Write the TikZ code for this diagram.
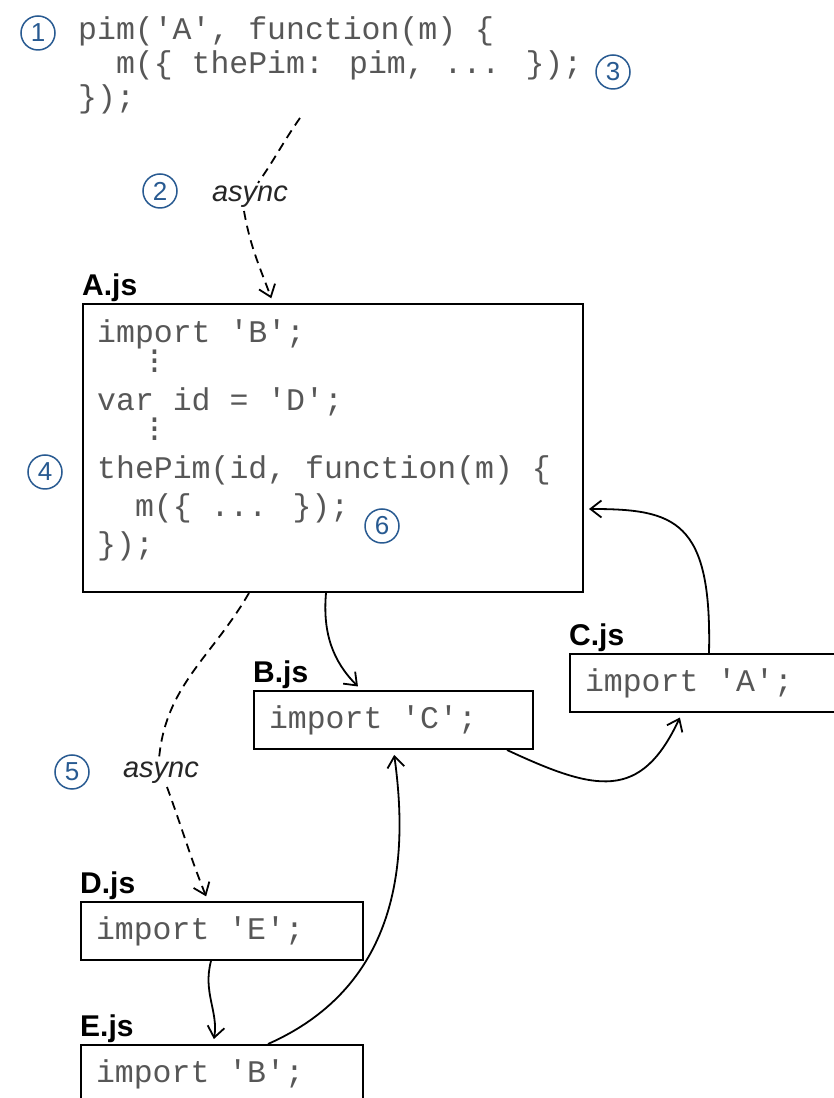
\documentclass[tikz,border=0pt]{standalone}
\usepackage{fontspec}
\usetikzlibrary{arrows.meta,positioning}
\newfontfamily\codefont{Liberation Mono}[Ligatures=TeXOff]
\newfontfamily\labelfont{Liberation Sans}
\definecolor{stepblue}{RGB}{40,90,145}
% three small dots between code lines
\newcommand\codegap{\hspace*{48pt}\raisebox{4pt}{\vbox{\baselineskip=9pt\lineskiplimit=0pt\hbox{.}\hbox{.}\hbox{.}}}}

\begin{document}
\begin{tikzpicture}[x=1pt, y=1pt,
        every node/.style = {align=left},
        codetext/.style = {font=\codefont\fontsize{31.5}{38}\selectfont, text=black!66},
        modbox/.style = {draw, line width=2pt, anchor=north west, inner xsep=15pt,
            inner ysep=0pt, text width=#1, align=flush left, minimum height=58pt},
        filename/.style = {font=\labelfont\bfseries\fontsize{30}{30}\selectfont,
            inner xsep=0pt, inner ysep=1pt},
        asynclabel/.style = {font=\labelfont\itshape\fontsize{29}{29}\selectfont,
            text=black!85, inner sep=3pt},
        marker/.style = {circle, draw=stepblue, line width=1.5pt, text=stepblue,
            minimum size=34pt, inner sep=0pt, font=\labelfont\fontsize{26}{26}\selectfont},
        link/.style = {line width=1.8pt, shorten >=5pt,
            -{Straight Barb[length=11pt,width=17pt]}},
        asyncline/.style = {line width=1.8pt, dash pattern=on 9pt off 6pt},
        asynclink/.style = {link, asyncline}]
    \fill[white] (0,0) rectangle (834,1098);
    \useasboundingbox (0,0) rectangle (834,1098);

    % loader call (base = last line)
    \node[codetext, font=\codefont\fontsize{31.5}{34}\selectfont, anchor=base west, inner sep=0pt]
        (pim) at (78,990) {pim('A', function(m) \{\\
        \hphantom{xx}m(\{ thePim: pim, ... \});\\
        \});};
    \node[marker] (num1) at (38,1065) {1};
    \node[marker] (num3) at (613,1026) {3};
    \coordinate (load) at (300,980);

    % module A
    \node[draw, line width=2pt, anchor=north west, minimum width=500pt, minimum height=288pt]
        (a) at (82,795) {};
    \node[codetext, anchor=base west, inner sep=0pt] (acode) at (97,543) {import 'B';\\[-4pt]
        \codegap\\[-4pt]
        var id = 'D';\\[-4pt]
        \codegap\\[-4pt]
        thePim(id, function(m) \{\\
        \hphantom{xx}m(\{ ... \});\\
        \});};
    \node[filename, above right=0pt of a.north west] (alabel) {A.js};
    \node[marker] (num4) at (45,626) {4};
    \node[marker] (num6) at (382,572) {6};

    % the other modules
    \node[modbox=249pt, codetext] (b) at (253,408) {import 'C';};
    \node[modbox=249pt, codetext] (c) at (569,445) {import 'A';};
    \node[modbox=252pt, codetext] (d) at (80,197) {import 'E';};
    \node[modbox=252pt, codetext] (e) at (80,54) {import 'B';};
    \node[filename, above right=0pt of b.north west] (blabel) {B.js};
    \node[filename, above right=0pt of c.north west] (clabel) {C.js};
    \node[filename, above right=0pt of d.north west] (dlabel) {D.js};
    \node[filename, above right=0pt of e.north west] (elabel) {E.js};

    % async loads
    \node[asynclabel] (async1) at (250,901) {async};
    \node[marker] (num2) at (160,907) {2};
    \node[asynclabel] (async2) at (161,325) {async};
    \node[marker] (num5) at (72,326) {5};
    \draw[asyncline] (load) to[out=-125,in=55] ([xshift=8pt]async1.north);
    \draw[asynclink] ([xshift=-6pt]async1.south) to[out=-80,in=110] ([xshift=-60pt]a.north);
    \draw[asyncline] ([xshift=-84pt]a.south) to[out=-120,in=85] ([xshift=-2pt]async2.north);
    \draw[asynclink] ([xshift=6pt]async2.south) to[out=-70,in=112] ([xshift=-14pt]d.north);

    % imports
    \draw[link] ([xshift=-7pt]a.south) to[out=-95,in=135] ([xshift=-32pt]b.north);
    \draw[link] ([xshift=-27pt]b.south east) to[out=-25,in=-115,looseness=1.4]
        ([xshift=113pt]c.south west);
    \draw[link] ([xshift=140pt]c.north west) .. controls +(3,133) and +(91,0) ..
        ([yshift=-61pt]a.east);
    \draw[link] ([xshift=-11pt]d.south) to[out=-105,in=80] ([xshift=-9pt]e.north);
    \draw[link] ([xshift=46pt]e.north) .. controls +(133,59) and +(15,-108) .. (b.south);
\end{tikzpicture}
\end{document}
